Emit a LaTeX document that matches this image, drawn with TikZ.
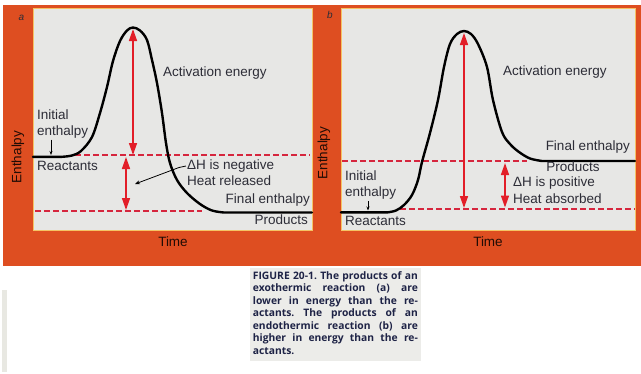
\documentclass[tikz,border=0pt]{standalone}
\usepackage{fontspec}
\setmainfont{Liberation Sans}
\newfontfamily\capfont{Open Sans}
\usetikzlibrary{arrows.meta}
\definecolor{orng}{RGB}{222,78,33}
\definecolor{pnl}{RGB}{231,231,229}
\definecolor{edgeyel}{RGB}{245,195,100}
\definecolor{txt}{RGB}{45,45,55}
\definecolor{redarr}{RGB}{226,30,40}
\definecolor{dashred}{RGB}{214,38,62}
\definecolor{captxt}{RGB}{30,35,70}
\definecolor{capbg}{RGB}{236,236,233}
\definecolor{stripgray}{RGB}{232,232,226}
\newcommand{\capline}[1]{\leavevmode\hbox to 165pt{#1}}
\begin{document}
\begin{tikzpicture}[x=1pt,y=-1pt,
  lbl/.style={inner sep=0pt, text=txt, font=\fontsize{13.5}{16}\selectfont, text height=10pt, text depth=3pt},
  axl/.style={inner sep=0pt, text=black!85!orng, font=\fontsize{13.5}{16}\selectfont},
  pnlbox/.style={draw=edgeyel, line width=0.8pt, fill=pnl},
  curve/.style={line width=2.4pt, black, line cap=round, line join=round},
  levarr/.style={redarr, line width=1.5pt, {Triangle[length=12pt,width=8pt]}-{Triangle[length=12pt,width=8pt]}},
  lev/.style={draw=dashred, line width=1.7pt, dash pattern=on 6pt off 3pt},
  tinyarr/.style={black, line width=0.7pt, -{Stealth[length=4pt,width=3pt]}},
]
\useasboundingbox (0,0) rectangle (641,373);
\fill[white] (0,0) rectangle (641,373);
% frame and panels
\fill[orng] (3,5) rectangle (641,266);
\draw[pnlbox] (33,8) rectangle (312,230);
\draw[pnlbox] (341,8) rectangle (635,230);
\fill[stripgray] (2,290) rectangle (7,372);
% caption
\fill[capbg] (250,268) rectangle (421,361);
\node[anchor=north west, inner sep=0pt, text width=165pt, text=captxt,
  font=\capfont\bfseries\fontsize{10.3}{12.5}\selectfont] (cap) at (252.7,271) {%
\capline{FIGURE\hfill 20-1.\hfill The\hfill products\hfill of\hfill an}\\
\capline{exothermic\hfill reaction\hfill (a)\hfill are}\\
\capline{lower\hfill in\hfill energy\hfill than\hfill the\hfill re-}\\
\capline{actants.\hfill The\hfill products\hfill of\hfill an}\\
\capline{endothermic\hfill reaction\hfill (b)\hfill are}\\
\capline{higher\hfill in\hfill energy\hfill than\hfill the\hfill re-}\\
actants.};

% ---------------- panel a ----------------
\node[inner sep=0pt, text=txt, font=\itshape\fontsize{10}{12}\selectfont] (la) at (21.5,18) {a};
\node[axl, rotate=90] (ya) at (18,157) {Enthalpy};
\node[axl] (xa) at (173,242) {Time};
\draw[lev] (75,155) -- (310,155);
\draw[lev] (35,211) -- (202,211);
\draw[curve] (33,156.8) -- (62,156.8)
  plot[smooth, tension=0.55] coordinates {(62,156.8) (72,155.5) (81,151) (92,137) (100,113) (107,87) (113,61) (120,41) (127,30.5) (133,27.5) (140,30.5) (147,40) (152,60) (157,83) (162,113) (166,143) (170,163) (177,180) (187,193) (200,204) (212,210.5) (224,212.5)}
  -- (312,212.5);
\coordinate (pkA) at (133,29);
\coordinate (reA) at (133,155);
\draw[levarr] (pkA) -- (reA);
\coordinate (dhA1) at (126,157);
\coordinate (dhA2) at (126,210);
\draw[levarr] (dhA1) -- (dhA2);
\node[lbl, anchor=west] (actA) at (163,73) {Activation energy};
\node[lbl, anchor=west] (iniA1) at (37,116) {Initial};
\node[lbl, anchor=west] (iniA2) at (37,132) {enthalpy};
\coordinate (iaTop) at (51,139.5);
\coordinate (iaBot) at (51,155);
\draw[tinyarr] (iaTop) -- (iaBot);
\node[lbl, anchor=west] (reacA) at (37,167) {Reactants};
\node[lbl, anchor=west] (dhnA) at (187,166) {ΔH is negative};
\node[lbl, anchor=west] (hrA) at (187,182) {Heat released};
\node[lbl, anchor=east] (finA) at (310,200) {Final enthalpy};
\node[lbl, anchor=east] (prodA) at (308,221) {Products};
\coordinate (ptrA) at (135,184);
\draw[black, line width=0.8pt, -{Stealth[length=5pt,width=4pt]}] ([xshift=-1pt]dhnA.west) -- (179,167.5) -- (ptrA);

% ---------------- panel b ----------------
\node[inner sep=0pt, text=txt, font=\itshape\fontsize{10}{12}\selectfont] (lb) at (330,15) {b};
\node[axl, rotate=90] (yb) at (324,153) {Enthalpy};
\node[axl] (xb) at (488,242) {Time};
\draw[lev] (342,161) -- (527,161);
\draw[lev] (400,209) -- (635,209);
\draw[curve] (341,212.3) -- (388,212.3)
  plot[smooth, tension=0.55] coordinates {(388,212.3) (396,210.5) (404,205) (412,195) (418,180) (422,162) (430,133) (438,100) (444,67) (450,44) (457,34) (464,31) (471,34) (478,44) (487,67) (493,100) (502,132) (510,144) (519,152) (530,158.5) (542,161)}
  -- (635,161);
\coordinate (pkB) at (464,33);
\coordinate (reB) at (464,208);
\draw[levarr] (pkB) -- (reB);
\coordinate (dhB1) at (505,163);
\coordinate (dhB2) at (505,207.5);
\draw[levarr] (dhB1) -- (dhB2);
\node[lbl, anchor=west] (actB) at (503,72) {Activation energy};
\node[lbl, anchor=east] (finB) at (630,147) {Final enthalpy};
\node[lbl] (prodB) at (573,168) {Products};
\node[lbl, anchor=west] (dhpB) at (513,183) {ΔH is positive};
\node[lbl, anchor=west] (haB) at (513,200) {Heat absorbed};
\node[lbl, anchor=west] (iniB1) at (345,177) {Initial};
\node[lbl, anchor=west] (iniB2) at (345,193) {enthalpy};
\coordinate (ibTop) at (368,201);
\coordinate (ibBot) at (368,210.5);
\draw[tinyarr] (ibTop) -- (ibBot);
\node[lbl, anchor=west] (reacB) at (345,222) {Reactants};
\end{tikzpicture}
\end{document}
